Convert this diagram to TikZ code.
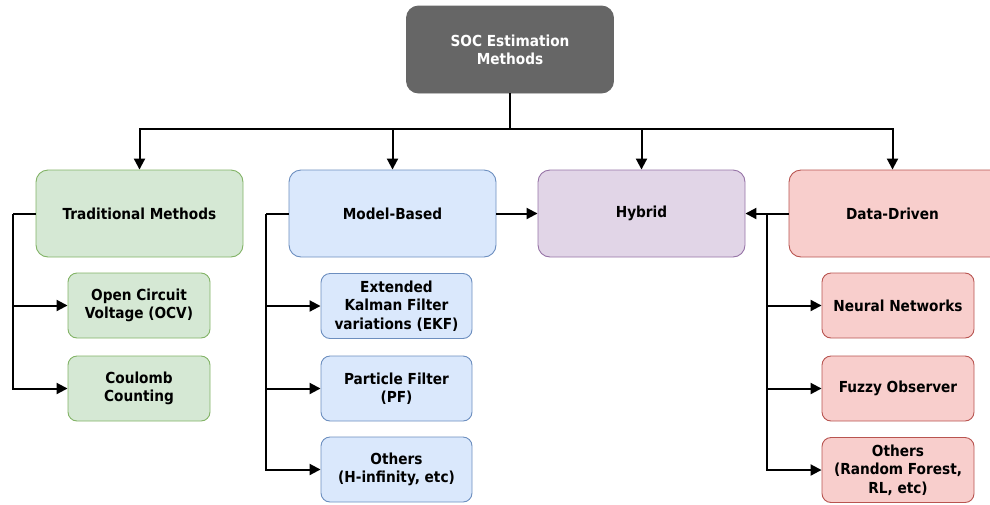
\documentclass[tikz,border=0pt]{standalone}
\usepackage{fontspec}
\setmainfont{DejaVu Sans Condensed}[BoldFont={DejaVu Sans Condensed Bold}]
\usetikzlibrary{arrows.meta}
\definecolor{gfill}{HTML}{D5E8D4}\definecolor{gline}{HTML}{82B366}
\definecolor{bfill}{HTML}{DAE8FC}\definecolor{bline}{HTML}{6C8EBF}
\definecolor{pfill}{HTML}{E1D5E7}\definecolor{pline}{HTML}{9673A6}
\definecolor{rfill}{HTML}{F8CECC}\definecolor{rline}{HTML}{B85450}
\definecolor{dfill}{HTML}{666666}\definecolor{dline}{HTML}{666666}
\begin{document}
\begin{tikzpicture}[x=1pt,y=-1pt,
  box/.style={rounded corners=12pt, line width=0.9pt, align=center, inner sep=0pt,
    font=\bfseries\fontsize{15.2}{18.3}\selectfont},
  big/.style={box, minimum width=207pt, minimum height=87pt},
  small/.style={box, rounded corners=9pt, minimum width=151pt, minimum height=65pt},
  grn/.style={fill=gfill, draw=gline},
  blu/.style={fill=bfill, draw=bline},
  pur/.style={fill=pfill, draw=pline},
  red/.style={fill=rfill, draw=rline},
  conn/.style={line width=2pt, -{Triangle[length=11pt,width=11pt]}},
  plain/.style={line width=2pt}]
\useasboundingbox (0,0) rectangle (990,504);
\node[big, fill=dfill, draw=dline, text=white] (top) at (510,49.5) {SOC Estimation\\Methods};
\node[big, grn] (trad) at (139.5,213.5) {Traditional Methods};
\node[big, blu] (model) at (392.5,213.5) {Model-Based};
\node[big, pur] (hyb) at (641.5,213.5) {Hybrid};
\node[big, red, minimum width=214pt] (data) at (896,213.5) {\hspace*{-7pt}Data-Driven};
% left subs
\node[small, grn, minimum width=142pt] (ocv) at (139,305.5) {Open Circuit\\Voltage (OCV)};
\node[small, grn, minimum width=142pt] (cc) at (139,388.5) {Coulomb\\Counting};
% model subs
\node[small, blu] (ekf) at (396.5,306) {Extended\\Kalman Filter\\variations (EKF)};
\node[small, blu] (pf) at (396.5,388.5) {Particle Filter\\(PF)};
\node[small, blu] (oth1) at (396.5,469.5) {Others\\(H-infinity, etc)};
% data subs
\node[small, red, minimum width=152pt] (nn) at (898,305.5) {Neural Networks};
\node[small, red, minimum width=152pt] (fz) at (898,388.5) {Fuzzy Observer};
\node[small, red, minimum width=152pt] (oth2) at (898,470) {Others\\(Random Forest,\\RL, etc)};
% top bus
\coordinate (bus) at (510,129);
\draw[plain] (top.south) -- (bus);
\draw[conn] (bus) -| (trad.north);
\draw[conn] (bus) -| (model.north);
\draw[conn] (bus) -| (hyb.north);
\draw[conn] (bus) -| ([xshift=-3.5pt]data.north);
% left bus
\coordinate (lb) at (13,213.5);
\draw[plain] (trad.west) -- (lb);
\draw[conn] (lb) |- (ocv.west);
\draw[conn] (lb) |- (cc.west);
% model bus
\coordinate (mb) at (266,213.5);
\draw[plain] (model.west) -- (mb);
\draw[conn] (mb) |- (ekf.west);
\draw[conn] (mb) |- (pf.west);
\draw[conn] (mb) |- (oth1.west);
\draw[conn] (model.east) -- (hyb.west);
% data bus
\coordinate (db) at (767,213.5);
\draw[conn] (data.west) -- (hyb.east);
\draw[conn] (db) |- (nn.west);
\draw[conn] (db) |- (fz.west);
\draw[conn] (db) |- (oth2.west);
\end{tikzpicture}
\end{document}
